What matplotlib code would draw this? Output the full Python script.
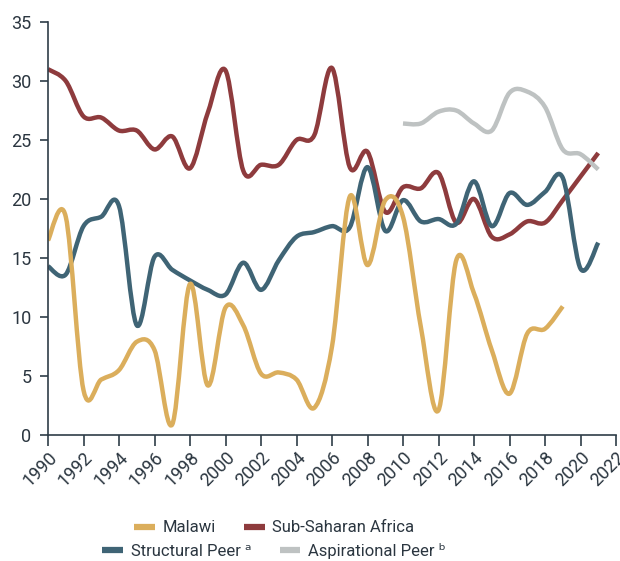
import numpy as np
import matplotlib
matplotlib.use("Agg")
import matplotlib.pyplot as plt
from matplotlib.path import Path
from matplotlib.patches import PathPatch
from matplotlib.lines import Line2D

plt.rcParams['font.family'] = ['Roboto', 'DejaVu Sans']

years = list(range(1990, 2022))
malawi = [16.5, 18.5, 3.8, 4.7, 5.5, 7.9, 7.2, 0.9, 12.8, 4.2, 10.8, 9.3,
          5.2, 5.3, 4.7, 2.3, 7.5, 20.2, 14.4, 19.9, 18.5, 9.2, 2.1, 14.8,
          12.0, 7.2, 3.5, 8.6, 9.0, 10.9]
malawi_years = list(range(1990, 2020))
ssa = [31.0, 30.0, 27.0, 26.9, 25.8, 25.8, 24.2, 25.3, 22.6, 27.3, 30.9, 22.4,
       22.9, 22.9, 25.0, 25.4, 31.1, 22.7, 24.0, 18.9, 21.0, 20.9, 22.2, 18.0,
       20.0, 16.8, 17.0, 18.1, 18.0, 19.9, 21.9, 23.9]
structural = [14.3, 13.6, 17.7, 18.5, 19.4, 9.3, 15.1, 14.0, 13.1, 12.3, 11.9, 14.6,
              12.3, 14.8, 16.8, 17.2, 17.7, 17.6, 22.7, 17.3, 19.9, 18.1, 18.3, 17.9,
              21.5, 17.7, 20.5, 19.5, 20.6, 21.8, 14.1, 16.3]
aspir_years = list(range(2010, 2022))
aspirational = [26.4, 26.4, 27.4, 27.5, 26.4, 25.8, 29.0, 29.1, 27.8, 24.2, 23.8, 22.5]

c_malawi = "#DBAE5C"
c_ssa = "#8E3B3D"
c_struct = "#3F6475"
c_aspir = "#BEC2C2"
txt = "#2B3640"


def smooth_path(xs, ys):
    # catmull-rom segments as cubic bezier path in data coords
    p = np.column_stack([xs, ys]).astype(float)
    n = len(p)
    verts = [p[0]]
    codes = [Path.MOVETO]
    for i in range(n - 1):
        p0 = p[i - 1] if i > 0 else p[i]
        p1 = p[i]
        p2 = p[i + 1]
        p3 = p[i + 2] if i + 2 < n else p[i + 1]
        verts += [p1 + (p2 - p0) / 6, p2 - (p3 - p1) / 6, p2]
        codes += [Path.CURVE4] * 3
    return Path(verts, codes)


fig = plt.figure(figsize=(6.2, 5.61), dpi=100)
ax = fig.add_axes([48 / 620, 1 - 435 / 561, (616 - 48) / 620, (435 - 22) / 561])

series = [
    (years, ssa, c_ssa),
    (years, structural, c_struct),
    (aspir_years, aspirational, c_aspir),
    (malawi_years, malawi, c_malawi),
]
for xs, ys, col in series:
    patch = PathPatch(smooth_path(xs, ys), facecolor="none", edgecolor=col,
                      lw=3.2, capstyle="butt", joinstyle="round")
    ax.add_patch(patch)

ax.set_xlim(1990, 2022)
ax.set_ylim(0, 35)
ax.set_xticks(range(1990, 2023, 2))
ax.set_yticks(range(0, 36, 5))
for s in ["top", "right"]:
    ax.spines[s].set_visible(False)
for s in ["left", "bottom"]:
    ax.spines[s].set_color("#2F3D48")
    ax.spines[s].set_linewidth(1.2)
ax.tick_params(axis="y", length=6, width=1.2, color="#2F3D48", labelsize=13,
               labelcolor=txt, pad=6)
ax.tick_params(axis="x", length=8, width=1.2, color="#2F3D48", labelsize=13,
               labelcolor=txt, pad=2)
plt.setp(ax.get_xticklabels(), rotation=45, ha="right", rotation_mode="anchor")


def handle(col):
    return Line2D([], [], color=col, lw=4.5, solid_capstyle="butt")


h1 = [handle(c_malawi), handle(c_ssa)]
h2 = [handle(c_struct), handle(c_aspir)]
leg_kw = dict(ncol=2, frameon=False, fontsize=12, handlelength=1.25,
              handletextpad=0.45, columnspacing=1.7, labelcolor=txt,
              loc="center", borderaxespad=0, borderpad=0)
fig.legend(h1, ["Malawi", "Sub-Saharan Africa"], bbox_to_anchor=(274 / 620, 1 - 528 / 561), **leg_kw)
fig.legend(h2, ["Structural Peer \u1d43", "Aspirational Peer \u1d47"],
           bbox_to_anchor=(274 / 620, 1 - 551 / 561), **leg_kw)

fig.savefig("out.png", dpi=100)
